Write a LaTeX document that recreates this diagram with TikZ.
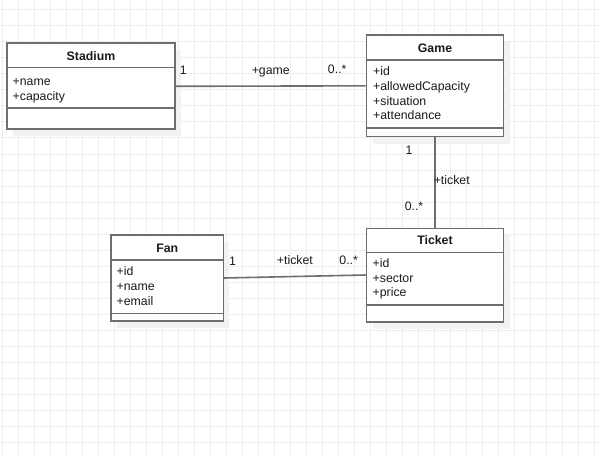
\documentclass[tikz,border=0pt]{standalone}
\usepackage{fontspec}
\setmainfont{Liberation Sans}
\usetikzlibrary{shadows}

\definecolor{umlline}{HTML}{6E6E6E}
\definecolor{gridgray}{HTML}{EDEDED}
\definecolor{umltext}{HTML}{1A1A1A}

\tikzset{
	umlbox/.style={draw=umlline, line width=1.6pt, fill=white, inner sep=0pt,
		drop shadow={shadow xshift=6pt, shadow yshift=-7pt, fill=black!5, opacity=1}},
	umlsep/.style={draw=umlline, line width=1.6pt},
	umltitle/.style={font=\fontsize{12.3}{14}\selectfont\bfseries, text=umltext, inner sep=0pt},
	umlattr/.style={font=\fontsize{12.3}{14}\selectfont, text=umltext, anchor=west, inner sep=0pt, text height=9pt, text depth=3pt},
	assoc/.style={draw=umlline, line width=1.6pt},
	role/.style={font=\fontsize{12.3}{14}\selectfont, text=umltext, inner sep=0pt, text height=9pt, text depth=3pt}
}

\begin{document}
\begin{tikzpicture}[x=1pt, y=-1pt]
	\fill[white, use as bounding box] (0,0) rectangle (601,457);
	\foreach \gx in {2.3,18.3,...,600} \draw[gridgray, line width=1pt] (\gx,0) -- (\gx,457);
	\foreach \gy in {10,26,...,457} \draw[gridgray, line width=1pt] (0,\gy) -- (601,\gy);
	
	\node[umlbox, minimum width=168pt, minimum height=86pt] (stadium) at (91,86.3) {};
	\draw[umlsep] (stadium.west |- 0,67.7) -- (stadium.east |- 0,67.7);
	\draw[umlsep] (stadium.west |- 0,108) -- (stadium.east |- 0,108);
	\node[umltitle] (stadium-title) at (91,56.3) {Stadium};
	\foreach \attr [count=\i] in {+name,+capacity}
		\node[umlattr] (stadium-\i) at (12.5,68.5+14.5*\i) {\attr};
	
	\node[umlbox, minimum width=137pt, minimum height=101.7pt] (game) at (435,85.85) {};
	\draw[umlsep] (game.west |- 0,60) -- (game.east |- 0,60);
	\draw[umlsep] (game.west |- 0,128.3) -- (game.east |- 0,128.3);
	\node[umltitle] (game-title) at (435,48.2) {Game};
	\foreach \attr [count=\i] in {+id,+allowedCapacity,+situation,+attendance}
		\node[umlattr] (game-\i) at (373,57.8+14.8*\i) {\attr};
	
	\node[umlbox, minimum width=137pt, minimum height=93.4pt] (ticket) at (435,275) {};
	\draw[umlsep] (ticket.west |- 0,252.3) -- (ticket.east |- 0,252.3);
	\draw[umlsep] (ticket.west |- 0,305) -- (ticket.east |- 0,305);
	\node[umltitle] (ticket-title) at (435,240.3) {Ticket};
	\foreach \attr [count=\i] in {+id,+sector,+price}
		\node[umlattr] (ticket-\i) at (372.5,249.6+14.7*\i) {\attr};
	
	\node[umlbox, minimum width=112.3pt, minimum height=86pt] (fan) at (167.2,278) {};
	\draw[umlsep] (fan.west |- 0,260) -- (fan.east |- 0,260);
	\draw[umlsep] (fan.west |- 0,313.3) -- (fan.east |- 0,313.3);
	\node[umltitle] (fan-title) at (167.2,248.2) {Fan};
	\foreach \attr [count=\i] in {+id,+name,+email}
		\node[umlattr] (fan-\i) at (116.5,258+14.7*\i) {\attr};
	
	\draw[assoc] (stadium.east) --
		node[role, pos=0.04, yshift=15pt] (stadium-game-m1) {1}
		node[role, pos=0.5, yshift=15pt] (stadium-game-role) {+game}
		node[role, pos=0.85, yshift=15pt] (stadium-game-m2) {0..*} (game.west);
	\draw[assoc] (game.south) --
		node[role, pos=0.14, xshift=-26pt, yshift=-1pt] (game-ticket-m1) {1}
		node[role, pos=0.48, anchor=west, xshift=-2pt, yshift=-1pt] (game-ticket-role) {+ticket}
		node[role, pos=0.77, xshift=-21pt, yshift=-1pt] (game-ticket-m2) {0..*} (ticket.north);
	\draw[assoc] (fan.east) --
		node[role, pos=0.06, yshift=15pt] (fan-ticket-m1) {1}
		node[role, pos=0.5, yshift=15pt] (fan-ticket-role) {+ticket}
		node[role, pos=0.88, yshift=14pt] (fan-ticket-m2) {0..*} (ticket.west);
\end{tikzpicture}
\end{document}
